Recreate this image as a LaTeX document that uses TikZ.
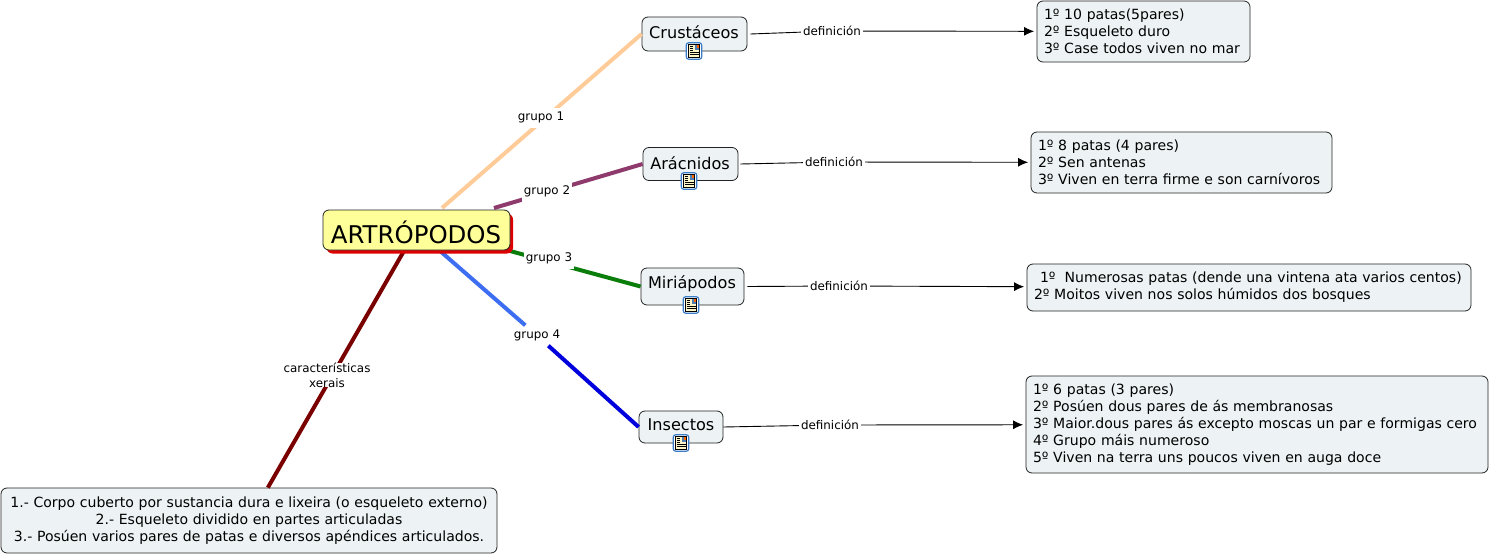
\documentclass[tikz,border=0pt]{standalone}
\usepackage{fontspec}
\setmainfont{DejaVu Sans}
\usetikzlibrary{arrows.meta,positioning,calc}
\definecolor{boxfill}{HTML}{EDF3F5}
\definecolor{rootfill}{HTML}{FFFF99}
\definecolor{rootshade}{HTML}{DD0000}
\definecolor{edge}{HTML}{222222}
\definecolor{peach}{HTML}{FFCC99}
\definecolor{plum}{HTML}{8E3A6D}
\definecolor{leaf}{HTML}{0A7D0A}
\definecolor{sky}{HTML}{3D6DF0}
\definecolor{deep}{HTML}{0000DD}
\definecolor{maroon}{HTML}{7A0000}
\definecolor{iconblue}{HTML}{3A7CC8}
\definecolor{paper}{HTML}{FFF6C8}
\tikzset{
  group/.style={draw=edge,fill=boxfill,rounded corners=6pt,line width=.8pt,text=black,
    font=\fontsize{16.1}{18}\selectfont,inner sep=0pt},
  groupname/.style={font=\fontsize{16.1}{18}\selectfont,text=black},
  info/.style={draw=edge,fill=boxfill,rounded corners=6pt,line width=.8pt,text=black,
    font=\fontsize{14.05}{17}\selectfont,inner xsep=7pt,inner ysep=0pt,align=left},
  tag/.style={fill=white,text=black,font=\fontsize{11.9}{15}\selectfont,inner xsep=2pt,inner ysep=0pt,
    minimum height=20pt,align=center},
  branch/.style={line width=4pt},
  defline/.style={draw=black,line width=.9pt},
  defarrow/.style={defline,-{Latex[length=10pt,width=9pt]},shorten >=2.5pt},
}
\newcommand{\noteicon}[2]{%
  \begin{scope}[shift={(#2)}]
    \node[draw=iconblue,fill=white,rounded corners=2.5pt,line width=1.2pt,minimum width=15.5pt,minimum height=16.5pt,inner sep=0pt] (#1) at (0,0) {};
    \fill[paper,draw=black,line width=.5pt] (-5.5,-6.5) rectangle (5.5,6.5);
    \fill[iconblue!70!gray] (.5,-6) rectangle (5,-1.5);
    \fill[orange!80!red] (2.5,-6) rectangle (5,-3.5);
    \foreach \y in {-4.5,-2.5,-.5}
      \draw[black,line width=.5pt] (-4.5,\y) -- (-1,\y);
    \foreach \y in {1.5,3.5}
      \draw[black,line width=.5pt] (-4.5,\y) -- (4.5,\y);
  \end{scope}}

\begin{document}
\begin{tikzpicture}[x=1pt,y=-1pt,>=Latex]
\useasboundingbox (0,0) rectangle (1489,554);

% ---------- the four groups ----------
\node[group,minimum width=105pt,minimum height=34pt] (crust) at (694.5,34) {};
\node[group,minimum width=95pt,minimum height=33pt] (arach) at (690.5,164) {};
\node[group,minimum width=103pt,minimum height=37pt] (myria) at (692.5,286.5) {};
\node[group,minimum width=84pt,minimum height=32pt] (insect) at (681,427) {};

% ---------- the definitions ----------
\node[info,text width=199pt,minimum height=61pt] (crustdef) at (1143.5,31.5)
  {1º 10 patas(5pares)\\2º Esqueleto duro\\3º Case todos viven no mar};
\node[info,text width=287pt,minimum height=61pt] (arachdef) at (1181.5,162.5)
  {1º 8 patas (4 pares)\\2º Sen antenas\\3º Viven en terra firme e son carnívoros};
\node[info,text width=430pt,minimum height=47pt] (myriadef) at (1249,287.5)
  {\hspace{6pt}1º\hspace{4.5pt} Numerosas patas (dende una vintena ata varios centos)\\2º Moitos viven nos solos húmidos dos bosques};
\node[info,text width=448pt,minimum height=97pt] (insectdef) at (1257,424.5)
  {1º 6 patas (3 pares)\\2º Posúen dous pares de ás membranosas\\3º Maior.dous pares ás excepto moscas un par e formigas cero\\4º Grupo máis numeroso\\5º Viven na terra uns poucos viven en auga doce};
\node[info,align=center,text width=482pt,minimum height=65pt] (traits) at (249,520.5)
  {1.- Corpo cuberto por sustancia dura e lixeira (o esqueleto externo)\\2.- Esqueleto dividido en partes articuladas\\3.- Posúen varios pares de patas e diversos apéndices articulados.};

% ---------- branches, all running under the root ----------
\coordinate (hub) at (416,230);
\coordinate (hubone) at (442,208);
\coordinate (hubtwo) at (494,208);
\coordinate (hubthree) at (433,230);
\node[tag] (tagfour) at (537,335.5) {grupo 4};
\draw[branch,peach] (hubone) -- (crust.west) node[tag] (tagone) at (541,117.5) {grupo 1};
\draw[branch,plum] (hubtwo) -- (arach.west) node[tag] (tagtwo) at (547,191.5) {grupo 2};
\draw[branch,leaf] (hubthree) -- (myria.west) node[tag] (tagthree) at (549,258.5) {grupo 3};
\draw[branch,sky] (hub) -- (tagfour);
\draw[branch,deep] (tagfour) -- (insect.west);
\draw[branch,maroon] (hub) -- (traits) node[tag] (tagtraits) at (327,375) {características\\xerais};

% ---------- the root, with its red shadow ----------
\fill[rootshade,rounded corners=6pt] (326.5,213.5) rectangle (513,253.5);
\node[draw=edge,fill=rootfill,rounded corners=6pt,line width=.8pt,minimum width=187pt,minimum height=40pt,
  inner sep=0pt] (root) at (416.5,230) {};
\node[font=\fontsize{24.4}{28}\selectfont,text=black,inner sep=0pt] (rootname) at (416,232.5) {ARTRÓPODOS};

% ---------- the definition arrows ----------
\node[tag] (defone) at (832,31) {definición};
\node[tag] (deftwo) at (834,162) {definición};
\node[tag] (defthree) at (839,286) {definición};
\node[tag] (deffour) at (830,425) {definición};
\draw[defline] ($(crust.east)+(3,0)$) -- (defone);
\draw[defarrow] (defone) -- (crustdef);
\draw[defline] ($(arach.east)+(2,0)$) -- (deftwo);
\draw[defarrow] (deftwo) -- (arachdef);
\draw[defline] ($(myria.east)+(3,0)$) -- (defthree);
\draw[defarrow] (defthree) -- (myriadef);
\draw[defline] (insect.east) -- (deffour);
\draw[defarrow] (deffour) -- (insectdef);

% ---------- group names and their icons ----------
\node[groupname] (crustname) at (694,32) {Crustáceos};
\node[groupname] (arachname) at (690,163) {Arácnidos};
\node[groupname] (myrianame) at (692,284) {Miriápodos};
\node[groupname] (insectname) at (681,425) {Insectos};
\noteicon{crusticon}{694,51}
\noteicon{arachicon}{689,181}
\noteicon{myriaicon}{691,305}
\noteicon{insecticon}{681,443}
\end{tikzpicture}
\end{document}
